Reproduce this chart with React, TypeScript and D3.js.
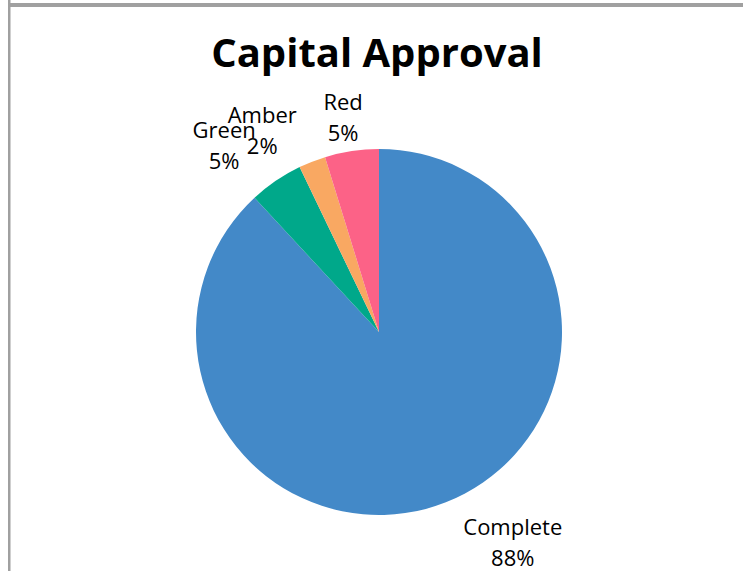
import React from "react";
import * as d3 from "d3";

const categories = ["Complete", "Green", "Amber", "Red"];
const values = [37, 2, 1, 2];
const colors = ["#4389C8", "#00A88A", "#F9A862", "#FC6287"];
const title = "Capital Approval";

// label placement (angle in degrees clockwise from 12 o'clock, distance from centre)
const labelPlacement: Record<string, { angle: number; dist: number }> = {
  Complete: { angle: 147.2, dist: 247 },
  Green: { angle: -39.4, dist: 244 },
  Amber: { angle: -29.8, dist: 235 },
  Red: { angle: -9.4, dist: 220 },
};

export default function App() {
  const W = 743;
  const H = 571;
  const cx = 379;
  const cy = 332;
  const r = 183;
  const total = d3.sum(values);
  const data = categories.map((c, i) => ({ c, v: values[i], color: colors[i] }));
  const pie = d3.pie<any>().value((d) => d.v).sort(null).startAngle(0).endAngle(2 * Math.PI);
  const arcs = pie(data);
  const arc = d3.arc<any>().innerRadius(0).outerRadius(r);
  const fmt = (v: number) => `${Math.round((v / total) * 100)}%`;
  const font = "'Open Sans', sans-serif";

  return (
    <svg
      width={W}
      height={H}
      style={{ position: "absolute", left: 0, top: 0, background: "#fff" }}
    >
      <rect x={9} y={3} width={W - 9} height={4} fill="#a0a0a0" />
      <rect x={8} y={0} width={2.5} height={H} fill="#a0a0a0" />
      <text
        x={377}
        y={67}
        textAnchor="middle"
        fontFamily={font}
        fontWeight={700}
        fontSize={40}
        fill="#000"
      >
        {title}
      </text>
      <g transform={`translate(${cx},${cy})`}>
        {arcs.map((a, i) => (
          <path key={i} d={arc(a) || ""} fill={a.data.color} />
        ))}
        {arcs.map((a, i) => {
          const p = labelPlacement[a.data.c];
          const ang = (p.angle * Math.PI) / 180;
          const x = Math.sin(ang) * p.dist;
          const y = -Math.cos(ang) * p.dist;
          return (
            <text
              key={"l" + i}
              x={x}
              y={y}
              textAnchor="middle"
              fontFamily={font}
              fontSize={22}
              fill="#000"
            >
              <tspan x={x} dy={-5}>{a.data.c}</tspan>
              <tspan x={x} dy={31}>{fmt(a.data.v)}</tspan>
            </text>
          );
        })}
      </g>
    </svg>
  );
}
